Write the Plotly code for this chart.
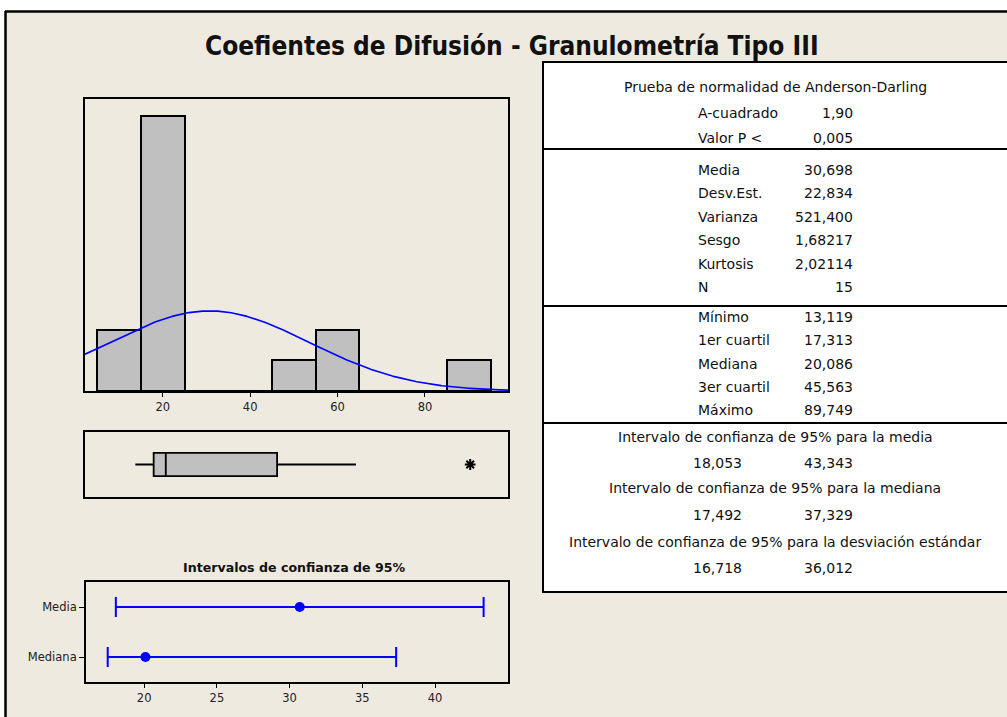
import numpy as np
import plotly.graph_objects as go

# ---------------- data ----------------
TITLE = "Coefientes de Difusión - Granulometría Tipo III"
BIN_CENTERS = [10, 20, 30, 40, 50, 60, 70, 80, 90]
BIN_COUNTS = [2, 9, 0, 0, 1, 2, 0, 0, 1]
BIN_WIDTH = 10
HIST_TICKS = [20, 40, 60, 80]

N_OBS = 15
MEAN = 30.698
STDEV = 22.834
VARIANCE = 521.400
SKEW = 1.68217
KURT = 2.02114
A_SQUARED = 1.90
P_VALUE = 0.005

MINIMUM = 13.119
Q1 = 17.313
MEDIAN = 20.086
Q3 = 45.563
MAXIMUM = 89.749
UPPER_WHISKER = 63.6          # largest non-outlier value
OUTLIERS = [89.749]

CI_NAMES = ["Media", "Mediana"]
CI_EST = [30.698, 20.086]
CI_LOW = [18.053, 17.492]
CI_HIGH = [43.343, 37.329]
CI_TICKS = [20, 25, 30, 35, 40]
SD_CI = [16.718, 36.012]

# ---------------- helpers ----------------
W, H = 1007, 717
BEIGE = "#EEEAE0"
GRAY = "#C0C0C0"
BLUE = "#0000FF"
FONT = "DejaVu Sans"


def px(x):
    return x / W


def py(y):
    return 1 - y / H


def fmt(v, d):
    return f"{v:.{d}f}".replace(".", ",")


fig = go.Figure()

# Histogram
fig.add_trace(go.Bar(
    x=BIN_CENTERS, y=BIN_COUNTS, width=BIN_WIDTH,
    marker=dict(color=GRAY, line=dict(color="black", width=2)),
    xaxis="x", yaxis="y", showlegend=False, hoverinfo="skip"))

xs = np.linspace(2.2, 99, 400)
pdf = np.exp(-0.5 * ((xs - MEAN) / STDEV) ** 2) / (STDEV * np.sqrt(2 * np.pi))
fig.add_trace(go.Scatter(
    x=xs, y=N_OBS * BIN_WIDTH * pdf, mode="lines",
    line=dict(color=BLUE, width=1.6), xaxis="x", yaxis="y",
    showlegend=False, hoverinfo="skip"))

# Boxplot
fig.add_trace(go.Box(
    y=[0], q1=[Q1], median=[MEDIAN], q3=[Q3],
    lowerfence=[MINIMUM], upperfence=[UPPER_WHISKER],
    orientation="h", width=0.72, whiskerwidth=0, fillcolor=GRAY,
    line=dict(color="black", width=1.8), boxpoints=False,
    xaxis="x2", yaxis="y2", showlegend=False, hoverinfo="skip"))
fig.add_trace(go.Scatter(
    x=OUTLIERS, y=[0] * len(OUTLIERS), mode="markers",
    marker=dict(symbol="asterisk-open", size=9, color="black",
                line=dict(color="black", width=2)),
    xaxis="x2", yaxis="y2", showlegend=False, hoverinfo="skip"))

# Confidence intervals
ci_y = [1, 0]
fig.add_trace(go.Scatter(
    x=CI_EST, y=ci_y, mode="markers",
    marker=dict(color=BLUE, size=10),
    error_x=dict(type="data", symmetric=False,
                 array=[h - e for h, e in zip(CI_HIGH, CI_EST)],
                 arrayminus=[e - l for e, l in zip(CI_EST, CI_LOW)],
                 color=BLUE, thickness=2, width=10),
    xaxis="x3", yaxis="y3", showlegend=False, hoverinfo="skip"))

axis_common = dict(showline=True, linecolor="black", linewidth=2, mirror=True,
                   showgrid=False, zeroline=False,
                   tickfont=dict(family=FONT, size=11.5, color="#222"))

hist_range = [2.2, 99.0]
fig.update_layout(
    width=W, height=H, margin=dict(l=0, r=0, t=0, b=0),
    paper_bgcolor="white", plot_bgcolor="white",
    font=dict(family=FONT, color="#111"),
    xaxis=dict(domain=[px(85), px(508)], range=hist_range, tickvals=HIST_TICKS,
               ticks="outside", ticklen=4, tickcolor="black", anchor="y", **axis_common),
    yaxis=dict(domain=[py(391), py(99)], range=[0, 9.555], showticklabels=False,
               ticks="", anchor="x", **axis_common),
    xaxis2=dict(domain=[px(85), px(508)], range=[1.6, 98.4], showticklabels=False,
                ticks="", anchor="y2", **axis_common),
    yaxis2=dict(domain=[py(497), py(432)], range=[-1, 1], showticklabels=False,
                ticks="", anchor="x2", **axis_common),
    xaxis3=dict(domain=[px(86), px(508)], range=[16.0, 45.02], tickvals=CI_TICKS,
                ticks="outside", ticklen=4, tickcolor="black", anchor="y3", **axis_common),
    yaxis3=dict(domain=[py(682), py(582)], range=[-0.5, 1.5], tickvals=ci_y,
                ticktext=CI_NAMES, ticks="outside", ticklen=5, tickcolor="black",
                anchor="x3", **axis_common),
    bargap=0,
)
fig.update_yaxes(tickfont=dict(family=FONT, size=11.5, color="#222"), selector=dict(anchor="x3"))

shapes = []
# beige frame background
shapes.append(dict(type="rect", xref="paper", yref="paper", layer="below",
                   x0=px(5), x1=1.01, y0=-0.01, y1=py(11),
                   fillcolor=BEIGE, line=dict(width=0)))
shapes.append(dict(type="line", xref="paper", yref="paper", x0=px(5), x1=1.01,
                   y0=py(11.5), y1=py(11.5), line=dict(color="black", width=2.5)))
shapes.append(dict(type="line", xref="paper", yref="paper", x0=px(5.5), x1=px(5.5),
                   y0=py(11), y1=-0.01, line=dict(color="black", width=2.5)))
# statistics table
shapes.append(dict(type="rect", xref="paper", yref="paper", layer="below",
                   x0=px(543), x1=px(1012), y0=py(592), y1=py(62),
                   fillcolor="white", line=dict(color="black", width=2)))
for yy in [149, 306, 423]:
    shapes.append(dict(type="line", xref="paper", yref="paper",
                       x0=px(543), x1=1.01, y0=py(yy), y1=py(yy),
                       line=dict(color="black", width=2)))
fig.update_layout(shapes=shapes)

ann = []
ann.append(dict(text=f"<b>{TITLE}</b>", x=px(512), y=py(46), xref="paper", yref="paper",
                showarrow=False, xanchor="center", yanchor="middle",
                font=dict(family="DejaVu Sans Condensed, Liberation Sans Narrow, DejaVu Sans",
                          size=26, color="#111")))
ann.append(dict(text="<b>Intervalos de confianza de 95%</b>", x=px(294), y=py(567),
                xref="paper", yref="paper", showarrow=False, xanchor="center",
                yanchor="middle", font=dict(family=FONT, size=12.6, color="#111")))

TF = dict(family=FONT, size=14, color="#111")


def center_text(t, y):
    ann.append(dict(text=t, x=px(775), y=py(y), xref="paper", yref="paper",
                    showarrow=False, xanchor="center", yanchor="middle", font=TF))


def row(label, value, y):
    ann.append(dict(text=label, x=px(696), y=py(y), xref="paper", yref="paper",
                    showarrow=False, xanchor="left", yanchor="middle", font=TF))
    ann.append(dict(text=value, x=px(855), y=py(y), xref="paper", yref="paper",
                    showarrow=False, xanchor="right", yanchor="middle", font=TF))


def pair(lo, hi, y):
    ann.append(dict(text=lo, x=px(744), y=py(y), xref="paper", yref="paper",
                    showarrow=False, xanchor="right", yanchor="middle", font=TF))
    ann.append(dict(text=hi, x=px(855), y=py(y), xref="paper", yref="paper",
                    showarrow=False, xanchor="right", yanchor="middle", font=TF))


center_text("Prueba de normalidad de Anderson-Darling", 87)
row("A-cuadrado", fmt(A_SQUARED, 2), 113)
row("Valor P &lt;", fmt(P_VALUE, 3), 138)

desc = [("Media", fmt(MEAN, 3)), ("Desv.Est.", fmt(STDEV, 3)),
        ("Varianza", fmt(VARIANCE, 3)), ("Sesgo", fmt(SKEW, 5)),
        ("Kurtosis", fmt(KURT, 5)), ("N", str(N_OBS))]
for i, (l, v) in enumerate(desc):
    row(l, v, 170 + i * 23.4)

quart = [("Mínimo", fmt(MINIMUM, 3)), ("1er cuartil", fmt(Q1, 3)),
         ("Mediana", fmt(MEDIAN, 3)), ("3er cuartil", fmt(Q3, 3)),
         ("Máximo", fmt(MAXIMUM, 3))]
for i, (l, v) in enumerate(quart):
    row(l, v, 317 + i * 23.3)

center_text("Intervalo de confianza de 95% para la media", 437)
pair(fmt(CI_LOW[0], 3), fmt(CI_HIGH[0], 3), 463)
center_text("Intervalo de confianza de 95% para la mediana", 488)
pair(fmt(CI_LOW[1], 3), fmt(CI_HIGH[1], 3), 515)
center_text("Intervalo de confianza de 95% para la desviación estándar", 542)
pair(fmt(SD_CI[0], 3), fmt(SD_CI[1], 3), 568)

fig.update_layout(annotations=ann)
fig.write_html("out.html", config={"displayModeBar": False},
               post_script="document.body.style.margin='0';document.body.style.overflow='hidden';")
